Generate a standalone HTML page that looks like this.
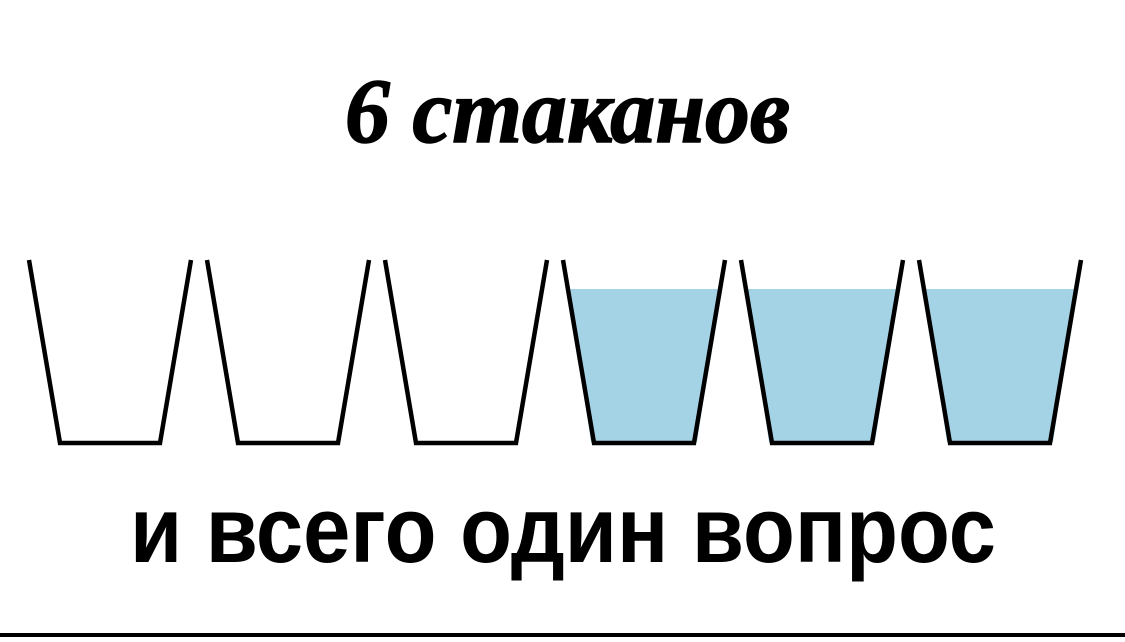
<!DOCTYPE html>
<html><head><meta charset="utf-8"><style>
html,body{margin:0;padding:0;background:#fff;}
body{width:1125px;height:637px;overflow:hidden;}
</style></head><body>
<svg width="1125" height="637" viewBox="0 0 1125 637" xmlns="http://www.w3.org/2000/svg">
<rect width="1125" height="637" fill="#fff"/>
<text x="345" y="142" textLength="445" lengthAdjust="spacingAndGlyphs" font-family="Liberation Serif, serif" font-weight="bold" font-style="italic" font-size="92" fill="#000" stroke="#000" stroke-width="1.5">6 стаканов</text>
<g fill="#a5d3e6">
<polygon points="568,289 720,289 697,442 591,442"/>
<polygon points="746,289 898,289 875,442 769,442"/>
<polygon points="924,289 1076,289 1053,442 947,442"/>
</g>
<g fill="none" stroke="#000" stroke-width="4.5" stroke-linejoin="miter">
<polyline points="29,260 60,443 160,443 191,260"/>
<polyline points="207,260 238,443 338,443 369,260"/>
<polyline points="385,260 416,443 516,443 547,260"/>
<polyline points="563,260 594,443 694,443 725,260"/>
<polyline points="741,260 772,443 872,443 903,260"/>
<polyline points="919,260 950,443 1050,443 1081,260"/>
</g>
<text x="130" y="562" textLength="866" lengthAdjust="spacingAndGlyphs" font-family="Liberation Sans, sans-serif" font-weight="bold" font-size="94" fill="#000">и всего один вопрос</text>
<rect x="0" y="633" width="1125" height="4" fill="#000"/>
</svg>
</body></html>
